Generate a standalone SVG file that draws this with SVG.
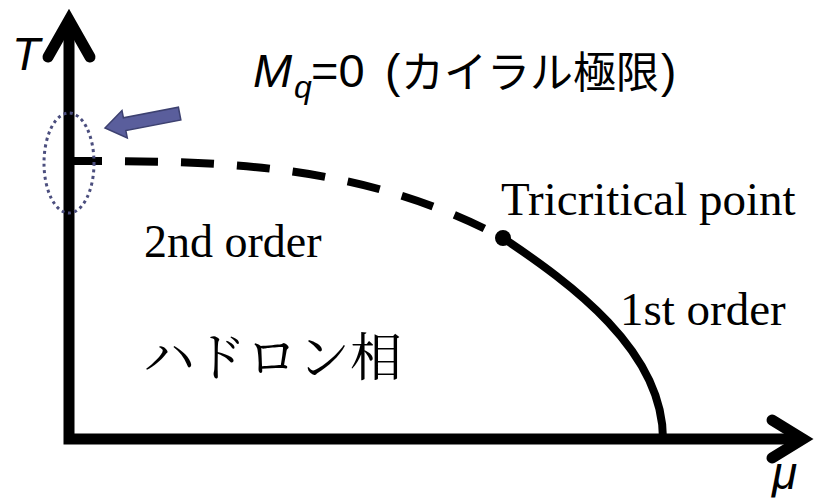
<svg xmlns="http://www.w3.org/2000/svg" width="814" height="499" viewBox="0 0 814 499">
<style>
.ax{fill:none;stroke:#000;stroke-width:11;stroke-linecap:round;stroke-linejoin:miter}
.serif{font-family:"Liberation Serif","Times New Roman",serif;fill:#000}
.sans{font-family:"Liberation Sans",Arial,sans-serif;fill:#000}
.cjk{font-family:"Noto Sans CJK JP",sans-serif;fill:#000}
</style>
<rect width="814" height="499" fill="#fff"/>
<g id="connectors">
  <g id="axes">
    <path class="ax" d="M69,24 V439 H801" stroke-linecap="butt"/>
    <path class="ax" d="M48,57 L69,20 L90,57"/>
    <path class="ax" d="M772,420 L803,439 L772,458"/>
  </g>
  <path id="second-order" d="M69,161 C213.7,161 358.3,161 503,238" fill="none" stroke="#000" stroke-width="8" stroke-dasharray="33 23"/>
  <path id="first-order" d="M503,238 C570,283 663,350 663,439" fill="none" stroke="#000" stroke-width="8"/>
  <polygon id="pointer" points="0,0 20,-14 20,-6.5 76,-6.5 76,6.5 20,6.5 20,14" transform="translate(105,128) rotate(-10.9)" fill="#5a5e9c" stroke="#3d4170" stroke-width="1.5" stroke-linejoin="miter"/>
</g>
<g id="chiral-limit-ellipse">
  <ellipse cx="69" cy="163" rx="25" ry="50" fill="none" stroke="#4b4e7e" stroke-width="3" stroke-dasharray="3 3.5"/>
</g>
<g id="tricritical-point">
  <circle cx="503" cy="238" r="8" fill="#000"/>
  <text class="serif" x="501" y="215" font-size="47">Tricritical point</text>
</g>
<g id="label-T"><text class="sans" x="12" y="70" font-size="46" font-style="italic">T</text></g>
<g id="label-mu"><text class="sans" x="772" y="489" font-size="46" font-style="italic">μ</text></g>
<g id="label-chiral">
  <text class="sans" x="253" y="87" font-size="47" font-style="italic">M</text>
  <text class="sans" x="294" y="98" font-size="32" font-style="italic">q</text>
  <text class="sans" x="311" y="87" font-size="47">=0</text>
  <text class="sans" x="385" y="87" font-size="46">(</text>
  <text class="cjk" x="401" y="88" font-size="43">カイラル極限</text>
  <text class="sans" x="661" y="87" font-size="46">)</text>
</g>
<g id="label-2nd"><text class="serif" x="144" y="257" font-size="46">2nd order</text></g>
<g id="label-1st"><text class="serif" x="620" y="325" font-size="47">1st order</text></g>
<g id="label-hadron"><text x="143" y="376" font-size="52" style="font-family:'Noto Serif CJK JP','Noto Sans CJK JP',serif">ハドロン相</text></g>
</svg>
